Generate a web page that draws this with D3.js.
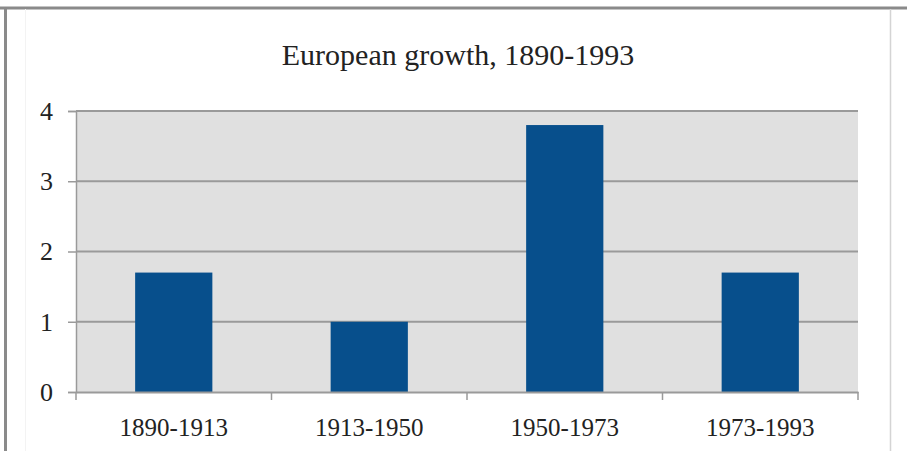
<!DOCTYPE html>
<html>
<head>
<meta charset="utf-8">
<script src="https://cdn.jsdelivr.net/npm/d3@7"></script>
<style>
  body { margin: 0; background: #fff; }
  svg { display: block; }
  text { font-family: "Liberation Serif", "DejaVu Serif", serif; fill: #222; }
</style>
</head>
<body>
<div id="chart"></div>
<script>
// data
var periods = ['1890-1913', '1913-1950', '1950-1973', '1973-1993'];
var growth = [1.7, 1.0, 3.8, 1.7];
var yTicks = [0, 1, 2, 3, 4];
var title = 'European growth, 1890-1993';

var width = 907, height = 451;
var margin = { top: 111, right: 49, bottom: 59, left: 76 };
var plotW = width - margin.left - margin.right;
var plotH = height - margin.top - margin.bottom;

var svg = d3.select('#chart').append('svg')
    .attr('width', width)
    .attr('height', height);

// page frame
svg.append('line').attr('x1', 0).attr('x2', width).attr('y1', 8).attr('y2', 8)
    .style('stroke', '#8a8a8a').style('stroke-width', 3);
svg.append('line').attr('x1', 5.5).attr('x2', 5.5).attr('y1', 7).attr('y2', height)
    .style('stroke', '#8a8a8a').style('stroke-width', 3);
svg.append('line').attr('x1', 890.5).attr('x2', 890.5).attr('y1', 9).attr('y2', height)
    .style('stroke', '#d4d4d4').style('stroke-width', 1.5);
svg.append('line').attr('x1', 25.5).attr('x2', 25.5).attr('y1', 9).attr('y2', height)
    .style('stroke', '#f3f3f3').style('stroke-width', 1);

svg.append('text')
    .attr('x', 458)
    .attr('y', 65)
    .attr('text-anchor', 'middle')
    .style('font-size', '30px')
    .text(title);

var g = svg.append('g')
    .attr('transform', 'translate(' + margin.left + ',' + margin.top + ')');

var x = d3.scaleBand().domain(periods).range([0, plotW]).padding(0);
var y = d3.scaleLinear().domain([0, 4]).range([plotH, 0]);

// plot background
g.append('rect')
    .attr('width', plotW)
    .attr('height', plotH)
    .style('fill', '#e0e0e0');

// gridlines
g.selectAll('.grid')
    .data(yTicks.filter(function(d) { return d > 0; }))
    .enter().append('line')
    .attr('class', 'grid')
    .attr('x1', 0).attr('x2', plotW)
    .attr('y1', function(d) { return y(d); })
    .attr('y2', function(d) { return y(d); })
    .style('stroke', '#9a9a9a')
    .style('stroke-width', 2);

// bars
var barW = x.bandwidth() * 0.395;
g.selectAll('.bar')
    .data(growth)
    .enter().append('rect')
    .attr('class', 'bar')
    .attr('x', function(d, i) { return x(periods[i]) + (x.bandwidth() - barW) / 2; })
    .attr('y', function(d) { return y(d); })
    .attr('width', barW)
    .attr('height', function(d) { return plotH - y(d); })
    .style('fill', '#074f8c');

// y axis
var yAxis = g.append('g')
    .call(d3.axisLeft(y).tickValues(yTicks).tickSize(8).tickPadding(15).tickFormat(d3.format('d')));
yAxis.select('.domain').style('stroke', '#9a9a9a').style('stroke-width', 1.5);
yAxis.selectAll('.tick line').style('stroke', '#9a9a9a').style('stroke-width', 1.5);
yAxis.selectAll('text').style('font-size', '26px').style('fill', '#222');

// x axis
var xAxis = g.append('g')
    .attr('transform', 'translate(0,' + plotH + ')')
    .call(d3.axisBottom(x).tickSize(0).tickPadding(26));
xAxis.select('.domain').style('stroke', '#9a9a9a').style('stroke-width', 2);
xAxis.selectAll('text').style('font-size', '25px').style('fill', '#222');

// category separator ticks
var edges = periods.map(function(p) { return x(p); }).concat([plotW]);
xAxis.selectAll('.sep')
    .data(edges)
    .enter().append('line')
    .attr('class', 'sep')
    .attr('x1', function(d) { return d; }).attr('x2', function(d) { return d; })
    .attr('y1', 0).attr('y2', 8)
    .style('stroke', '#9a9a9a')
    .style('stroke-width', 1.5);
</script>
</body>
</html>
